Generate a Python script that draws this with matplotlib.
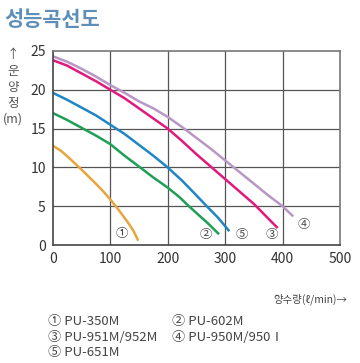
import matplotlib
matplotlib.use('Agg')
import matplotlib.pyplot as plt

plt.rcParams['font.family'] = ['Noto Sans CJK KR', 'DejaVu Sans']

# 성능곡선 데이터 (유량 ℓ/min, 양정 m)
q1 = [0, 15, 30, 46, 60, 75, 88, 100, 115, 130, 140, 148]
h1 = [12.8, 12.1, 11.1, 10.0, 9.0, 7.9, 6.9, 5.9, 4.5, 3.0, 1.9, 0.7]

q2 = [0, 25, 50, 75, 100, 125, 152, 175, 200, 220, 237, 255, 270, 288]
h2 = [17.0, 16.1, 15.1, 14.1, 13.0, 11.5, 10.0, 8.7, 7.4, 6.2, 5.0, 3.8, 2.8, 1.5]

q5 = [0, 25, 50, 75, 100, 125, 150, 175, 200, 225, 250, 268, 288, 306]
h5 = [19.6, 18.7, 17.7, 16.7, 15.5, 14.3, 12.9, 11.5, 10.0, 8.3, 6.4, 5.0, 3.5, 1.9]

q3 = [0, 25, 50, 75, 100, 125, 150, 175, 200, 225, 250, 275, 300, 325, 350, 370, 390]
h3 = [23.8, 23.1, 22.1, 21.1, 20.0, 18.9, 17.6, 16.3, 15.0, 13.4, 11.7, 10.1, 8.5, 6.9, 5.3, 3.8, 2.3]

q4 = [0, 25, 50, 75, 100, 125, 150, 175, 200, 225, 250, 275, 300, 325, 350, 375, 400, 417]
h4 = [24.3, 23.6, 22.7, 21.7, 20.6, 19.6, 18.5, 17.6, 16.5, 15.2, 13.8, 12.4, 10.9, 9.4, 7.9, 6.4, 5.0, 3.8]

curve_marks = ['①', '②', '⑤', '③', '④']
mark_x = [121, 267, 330, 381, 437]
mark_y = [1.5, 1.4, 1.4, 1.4, 2.7]

models = ['① PU-350M', '② PU-602M', '③ PU-951M/952M', '④ PU-950M/950Ⅰ', '⑤ PU-651M']

fig = plt.figure(figsize=(3.6, 3.63), dpi=100)
ax = fig.add_axes([0.1464, 0.325, 0.798, 0.535])

ax.plot(q1, h1, color='#E8A53E', lw=1.8)
ax.plot(q2, h2, color='#1DA055', lw=1.8)
ax.plot(q5, h5, color='#1F86C6', lw=1.8)
ax.plot(q3, h3, color='#E2197C', lw=1.8)
ax.plot(q4, h4, color='#B897C6', lw=1.8)

for m, x, y in zip(curve_marks, mark_x, mark_y):
    ax.text(x, y, m, fontsize=9, color='#444444', ha='center', va='center')

ax.set_xlim(0, 500)
ax.set_ylim(0, 25)
ax.set_xticks([0, 100, 200, 300, 400, 500])
ax.set_yticks([0, 5, 10, 15, 20, 25])
ax.tick_params(length=0, labelsize=10, colors='#333333', pad=5)
for v in [100, 200, 300, 400]:
    ax.axvline(v, color='#555555', lw=0.9, zorder=0)
for v in [5, 10, 15, 20]:
    ax.axhline(v, color='#555555', lw=0.9, zorder=0)
for s in ['left', 'bottom']:
    ax.spines[s].set_color('#444444')
    ax.spines[s].set_linewidth(1.2)
for s in ['right', 'top']:
    ax.spines[s].set_color('#777777')
    ax.spines[s].set_linewidth(1.2)

fig.text(0.012, 0.945, '성능곡선도', fontsize=15, fontweight='bold',
         color='#5E8FB8', ha='left', va='center')

# 세로 축 제목 (글자별로 세워서 배치)
ylab_chars = ['↑', '운', '양', '정', '(m)']
ylab_y = [0.850, 0.804, 0.760, 0.716, 0.672]
for c, y in zip(ylab_chars, ylab_y):
    fig.text(0.037, y, c, fontsize=9, color='#555555', ha='center',
             va='center', rotation=0)

fig.text(0.965, 0.175, '양수량(ℓ/min)→', fontsize=7.5, color='#444444',
         ha='right', va='center')

leg_x = [0.133, 0.478, 0.133, 0.478, 0.133]
leg_y = [0.113, 0.113, 0.070, 0.070, 0.030]
for t, x, y in zip(models, leg_x, leg_y):
    fig.text(x, y, t, fontsize=9.5, color='#444444', ha='left', va='center')

fig.savefig('out.png', dpi=100)
